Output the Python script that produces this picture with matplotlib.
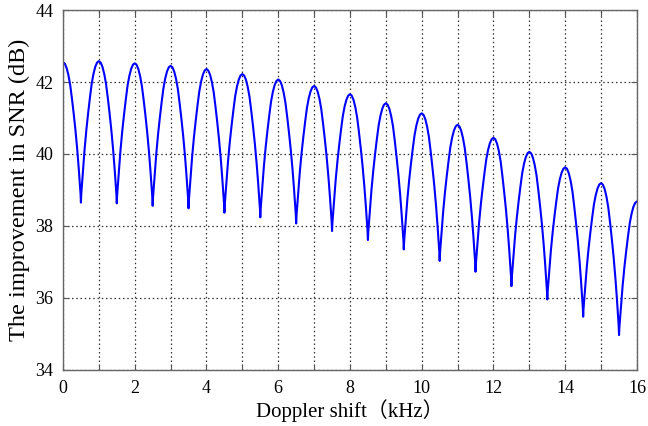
import numpy as np
import matplotlib
matplotlib.use("Agg")
import matplotlib.pyplot as plt

# Values (dB)
peak_x = [0, 1, 2, 3, 4, 5, 6, 7, 8, 9, 10, 11, 12, 13, 14, 15, 16]
peak_y = [42.55, 42.58, 42.52, 42.45, 42.36, 42.22, 42.07, 41.89, 41.66,
          41.41, 41.13, 40.81, 40.45, 40.06, 39.63, 39.19, 38.68]
dip_y = [38.65, 38.63, 38.56, 38.49, 38.37, 38.24, 38.07, 37.86, 37.61,
         37.35, 37.03, 36.73, 36.33, 35.96, 35.48, 34.97]

# lobe shape read from one lobe: offset from peak (kHz) vs. fraction of depth
lobe_off = [0, 0.05, 0.10, 0.15, 0.20, 0.25, 0.30, 0.35, 0.40, 0.44, 0.47, 0.49, 0.50]
lobe_frac = [0, 0.01, 0.04, 0.09, 0.16, 0.26, 0.37, 0.49, 0.63, 0.76, 0.87, 0.94, 1.0]

off = np.array(lobe_off)
frac = np.array(lobe_frac)
xs, ys = [], []
for k in range(len(dip_y)):
    p0, p1, d = peak_y[k], peak_y[k + 1], dip_y[k]
    # falling half: peak k -> dip
    xs.append(peak_x[k] + off[:-1])
    ys.append(p0 - (p0 - d) * frac[:-1])
    # rising half: dip -> peak k+1
    xs.append(peak_x[k + 1] - off[::-1])
    ys.append(p1 - (p1 - d) * frac[::-1])
x = np.concatenate(xs)
y = np.concatenate(ys)

plt.rcParams['font.family'] = ['Liberation Serif', 'Noto Sans CJK SC']

fig = plt.figure(figsize=(6.48, 4.26), dpi=100)
ax = fig.add_axes([0.0972, 0.1315, 0.8858, 0.845])
ax.plot(x, y, color='#0000ff', lw=1.5)

ax.set_xlim(0, 16)
ax.set_ylim(34, 44)
ax.set_xticks(np.arange(0, 17, 1))
ax.set_xticklabels([str(v) if v % 2 == 0 else '' for v in range(17)])
ax.set_yticks([34, 36, 38, 40, 42, 44])
ax.grid(True, color='#333333', linestyle=(0, (1.2, 2.2)), lw=0.9)
ax.tick_params(direction='in', top=True, right=True, length=4,
               labelsize=13, color='#555555')
ax.tick_params(axis='x', pad=7)
ax.tick_params(axis='y', pad=7)
for s in ax.spines.values():
    s.set_color('#666666')
    s.set_linewidth(1.0)

ax.set_xlabel('Doppler shift（kHz）', fontsize=15, labelpad=2)
ax.set_ylabel('The improvement in SNR (dB)', fontsize=17.5, labelpad=4)

fig.savefig('out.png', dpi=100)
